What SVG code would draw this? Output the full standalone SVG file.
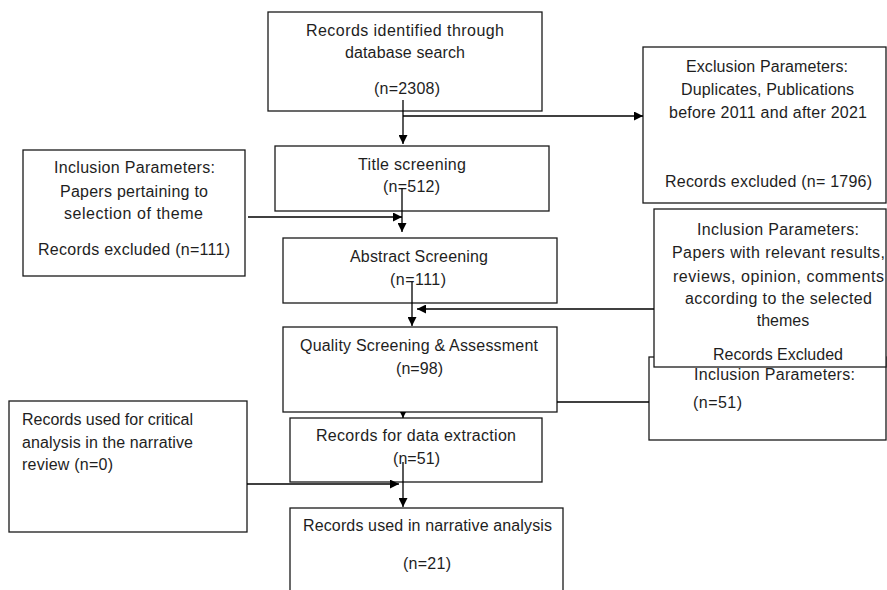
<svg xmlns="http://www.w3.org/2000/svg" width="887" height="590" viewBox="0 0 887 590">
<defs>
<style>
.box{fill:#fff;stroke:#1a1a1a;stroke-width:1.3}
.t{font-family:"Liberation Sans",Arial,sans-serif;font-size:16px;fill:#1e1e1e;text-anchor:middle}
.tl{font-family:"Liberation Sans",Arial,sans-serif;font-size:16px;fill:#1e1e1e;text-anchor:start}
.c{fill:none;stroke:#000;stroke-width:1.3}
</style>
<marker id="arr" viewBox="0 0 10 10" refX="10" refY="5" markerWidth="9" markerHeight="9" orient="auto" markerUnits="userSpaceOnUse">
<path d="M0,0 L10,5 L0,10 z" fill="#000"/>
</marker>
<marker id="arrs" viewBox="0 0 10 10" refX="10" refY="5" markerWidth="6" markerHeight="6" orient="auto" markerUnits="userSpaceOnUse">
<path d="M0,0 L10,5 L0,10 z" fill="#000"/>
</marker>
</defs>
<rect width="887" height="590" fill="#fff"/>

<g id="identified">
<rect class="box" x="268" y="12" width="274" height="99"/>
<text class="t" x="405" y="36" textLength="198">Records identified through</text>
<text class="t" x="405" y="58" textLength="120">database search</text>
<text class="t" x="407" y="94" textLength="66">(n=2308)</text>
</g>

<g id="exclusion">
<rect class="box" x="643" y="47" width="243" height="156"/>
<text class="t" x="767" y="72" textLength="162">Exclusion Parameters:</text>
<text class="t" x="767.5" y="95" textLength="173">Duplicates, Publications</text>
<text class="t" x="768" y="118" textLength="198">before 2011 and after 2021</text>
<text class="t" x="768.5" y="187" textLength="207">Records excluded (n= 1796)</text>
</g>

<g id="title">
<rect class="box" x="275" y="146" width="274" height="65"/>
<text class="t" x="412" y="170" textLength="108">Title screening</text>
<text class="t" x="411.5" y="192" textLength="57">(n=512)</text>
</g>

<g id="inclusion-left">
<rect class="box" x="23" y="150" width="222" height="126"/>
<text class="t" x="134.5" y="173" textLength="161">Inclusion Parameters:</text>
<text class="t" x="134" y="197" textLength="148">Papers pertaining to</text>
<text class="t" x="133.5" y="219" textLength="139">selection of theme</text>
<text class="t" x="134" y="255" textLength="192">Records excluded (n=111)</text>
</g>

<g id="abstract">
<rect class="box" x="283" y="238" width="274" height="65"/>
<text class="t" x="419" y="262" textLength="138">Abstract Screening</text>
<text class="t" x="418" y="285" textLength="56">(n=111)</text>
</g>

<g id="excluded-lower">
<rect class="box" x="649" y="357" width="237" height="83"/>
<text class="t" x="774.5" y="380" textLength="161">Inclusion Parameters:</text>
<text class="tl" x="693" y="408" textLength="49">(n=51)</text>
</g>

<g id="inclusion-right">
<rect class="box" x="654" y="209" width="232" height="158"/>
<text class="t" x="778" y="235" textLength="162">Inclusion Parameters:</text>
<text class="t" x="778.5" y="258" textLength="213">Papers with relevant results,</text>
<text class="t" x="778.5" y="282" textLength="211">reviews, opinion, comments</text>
<text class="t" x="778.5" y="304" textLength="187">according to the selected</text>
<text class="t" x="783" y="326">themes</text>
<text class="t" x="778" y="360" textLength="130">Records Excluded</text>
</g>

<g id="quality">
<rect class="box" x="283" y="327" width="274" height="85"/>
<text class="t" x="419" y="351" textLength="238">Quality Screening &amp; Assessment</text>
<text class="t" x="419.5" y="374" textLength="47">(n=98)</text>
</g>

<g id="critical">
<rect class="box" x="9" y="401" width="238" height="131"/>
<text class="tl" x="22" y="425" textLength="171">Records used for critical</text>
<text class="tl" x="22" y="448" textLength="171">analysis in the narrative</text>
<text class="tl" x="22" y="470" textLength="91">review (n=0)</text>
</g>

<g id="extraction">
<rect class="box" x="290" y="418" width="252" height="64"/>
<text class="t" x="416" y="441" textLength="200">Records for data extraction</text>
<text class="t" x="416.5" y="464" textLength="47">(n=51)</text>
</g>

<g id="narrative">
<rect class="box" x="290" y="508" width="273" height="100"/>
<text class="t" x="427.5" y="531" textLength="249">Records used in narrative analysis</text>
<text class="t" x="427" y="569" textLength="48">(n=21)</text>
</g>

<g id="connectors">
<path class="c" d="M403,100 V144" marker-end="url(#arr)"/>
<path class="c" d="M403,116 H643" marker-end="url(#arr)"/>
<path class="c" d="M402,188 V232" marker-end="url(#arr)"/>
<path class="c" d="M248,217 H402" marker-end="url(#arr)"/>
<path class="c" d="M412,282 V326" marker-end="url(#arr)"/>
<path class="c" d="M654,309 H417" marker-end="url(#arr)"/>
<path class="c" d="M557,402 H649"/>
<path class="c" d="M403,412 V418" marker-end="url(#arrs)"/>
<path class="c" d="M403,462 V507" marker-end="url(#arr)"/>
<path class="c" d="M247,484 H399" marker-end="url(#arr)"/>
</g>
</svg>
